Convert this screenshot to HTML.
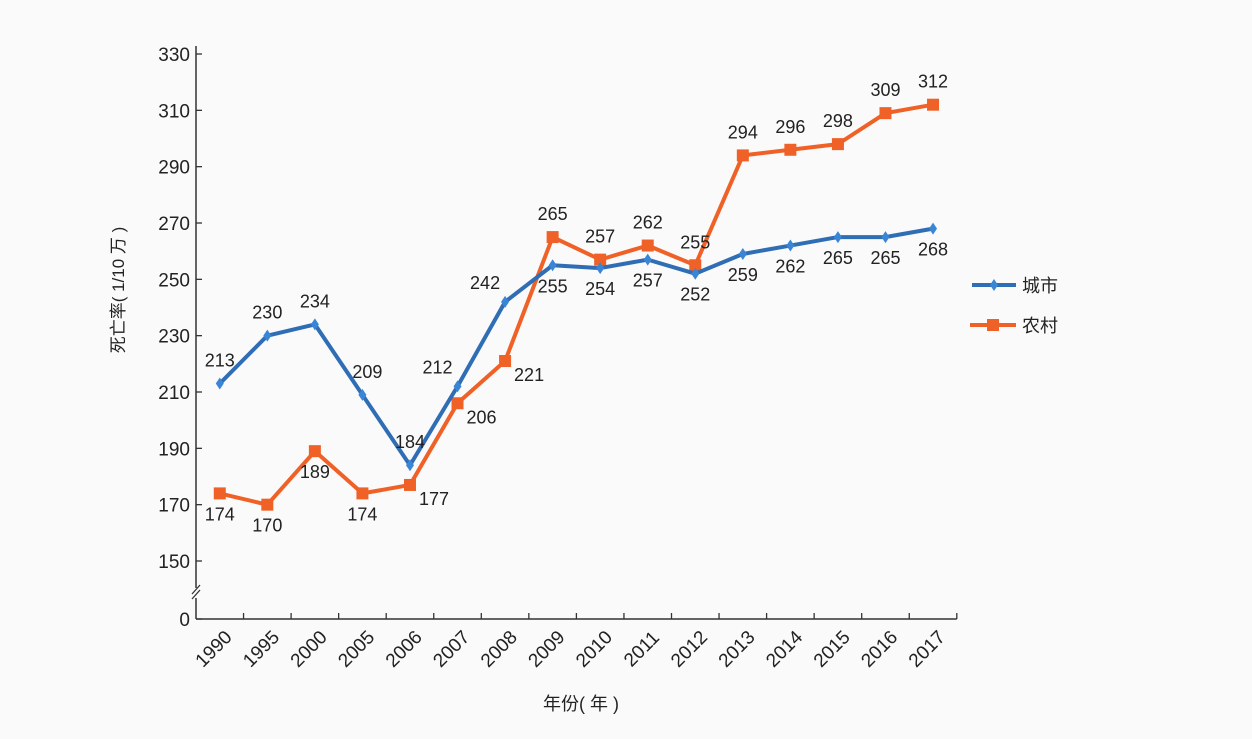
<!DOCTYPE html>
<html><head><meta charset="utf-8"><style>
html,body{margin:0;padding:0;background:#fafafa;}
svg text{font-family:"Liberation Sans","Noto Sans CJK SC",sans-serif;fill:#222;}
</style></head><body>
<svg width="1252" height="734" viewBox="0 0 1252 734">
<rect x="0" y="0" width="1252" height="734" fill="#fafafa"/>
<g id="axes"></g><g id="series"></g>
<g>
  <line x1="972" y1="285" x2="1016" y2="285" stroke="#2f6db5" stroke-width="4"/>
  <path d="M994 279 L998 285 L994 291 L990 285Z" fill="#3a86d6"/>
  <text x="1022" y="292" font-size="18">城市</text>
  <line x1="970" y1="325" x2="1016" y2="325" stroke="#ef6127" stroke-width="4"/>
  <rect x="987" y="319" width="12" height="12" fill="#ef6127"/>
  <text x="1022" y="332" font-size="18">农村</text>
</g>
<text x="543" y="710" font-size="18">年份( 年 )</text>
<text transform="translate(124,290) rotate(-90)" text-anchor="middle" font-size="17">死亡率( 1/10 万 )</text>
</svg>
<script>
const years=["1990","1995","2000","2005","2006","2007","2008","2009","2010","2011","2012","2013","2014","2015","2016","2017"];
const urban=[213,230,234,209,184,212,242,255,254,257,252,259,262,265,265,268];
const rural=[174,170,189,174,177,206,221,265,257,262,255,294,296,298,309,312];
const yTicks=[150,170,190,210,230,250,270,290,310,330];
const urbanLabelPos=["a","a","a","ar","a","al","al","b","b","b","b","b","b","b","b","b"];
const ruralLabelPos=["b","b","b","b","br","br","br","a","a","a","a","a","a","a","a","a"];
const NS="http://www.w3.org/2000/svg";
const X0=196,BW=47.55,Y0=619;
function xs(i){return X0+BW*(i+0.5);}
function ys(v){return 561-(v-150)*(507/180);}
function mk(tag,attrs,parent){const e=document.createElementNS(NS,tag);for(const k in attrs)e.setAttribute(k,attrs[k]);parent.appendChild(e);return e;}
const axes=document.getElementById('axes'),ser=document.getElementById('series');
let l=mk('line',{x1:X0,y1:Y0,x2:X0+BW*16,y2:Y0,stroke:'#333','stroke-width':1.5},axes);


l=mk('path',{d:`M${X0} ${Y0} L${X0} 598 M${X0} 588 L${X0} 46`,stroke:'#333','stroke-width':1.5,fill:'none'},axes);


l=mk('path',{d:`M${X0-4} 599 L${X0+4} 590 M${X0-4} 594 L${X0+4} 585`,stroke:'#333','stroke-width':1.3,fill:'none'},axes);


function ytick(v,y){
  const t=mk('line',{x1:X0,y1:y,x2:X0+6,y2:y,stroke:'#333','stroke-width':1.3},axes);
  
  
  const tx=mk('text',{x:X0-6,y:y+7,'text-anchor':'end','font-size':19},axes);tx.textContent=v;
  
  
}
yTicks.forEach(v=>ytick(v,ys(v)));
ytick(0,Y0);
years.forEach((yr,i)=>{
  const xe=X0+BW*(i+1);
  const t=mk('line',{x1:xe,y1:Y0,x2:xe,y2:Y0-6,stroke:'#333','stroke-width':1.3},axes);
  
  
  const cx=xs(i)-6,cy=Y0+30;
  const tx=mk('text',{x:cx,y:cy+6,'text-anchor':'middle','font-size':19,transform:`rotate(-45 ${cx} ${cy})`},axes);tx.textContent=yr;
  
  
});
function offs(p){return {a:[0,-17],b:[0,27],ar:[5,-17],al:[-20,-13],br:[24,20]}[p];}
function drawSeries(vals,color,mcolor,shape,lp,name){
  const pts=vals.map((v,i)=>[xs(i),ys(v)]);
  const pl=mk('polyline',{points:pts.map(p=>p.join(',')).join(' '),fill:'none',stroke:color,'stroke-width':4,'stroke-linejoin':'round'},ser);
  
  
  pts.forEach((p,i)=>{
    let m;
    if(shape==='sq') m=mk('rect',{x:p[0]-6,y:p[1]-6,width:12,height:12,fill:mcolor},ser);
    else m=mk('path',{d:`M${p[0]} ${p[1]-6} L${p[0]+4} ${p[1]} L${p[0]} ${p[1]+6} L${p[0]-4} ${p[1]}Z`,fill:mcolor},ser);
    
    
    const o=offs(lp[i]);
    const t=mk('text',{x:p[0]+o[0],y:p[1]+o[1],'text-anchor':'middle','font-size':18},ser);t.textContent=vals[i];
    
    
  });
}
drawSeries(rural,'#ef6127','#ef6127','sq',ruralLabelPos,'rural');
drawSeries(urban,'#2f6db5','#3a86d6','dia',urbanLabelPos,'urban');
</script>
</body></html>
